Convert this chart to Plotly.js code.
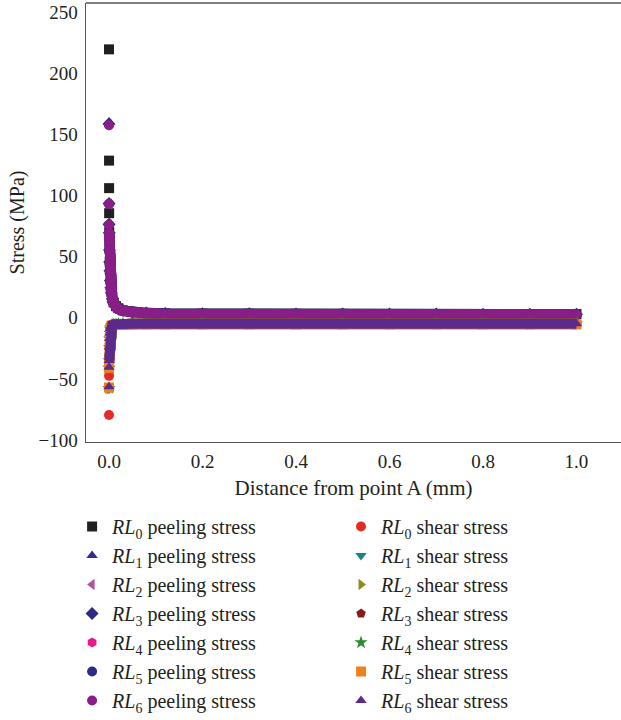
<!DOCTYPE html>
<html>
<head>
<meta charset="utf-8">
<script src="https://cdn.plot.ly/plotly-3.0.1.min.js"></script>
<style>html,body{margin:0;padding:0;background:#fff;overflow:hidden}#chart{width:621px;height:720px}</style>
</head>
<body>
<div id="chart"></div>
<script>
// Shared x positions (mm) for the continuous part of each curve
const bandX = [0.0005, 0.001, 0.0015, 0.002, 0.003, 0.004, 0.005, 0.007, 0.01, 0.015, 0.02, 0.03, 0.05, 0.08, 0.12, 0.2, 0.3, 0.4, 0.5, 0.6, 0.7, 0.8, 0.9, 1.0];

// Isolated singular points at the edge (x in mm)
const spikeX0 = [0, 0.0001, 0.0002, 0.0003];
const spikeX = [0, 0.0001, 0.0002];
const spikeXs = [0, 0.0001];

// Peeling stress (MPa)
const peelNames = ["RL0", "RL1", "RL2", "RL3", "RL4", "RL5", "RL6"];
const peelSpikeY = [
  [219.5, 128.5, 106, 85.5],
  [160, 94, 77],
  [158, 93, 76],
  [158.5, 93.5, 76.5],
  [158, 93, 76],
  [158, 93, 76],
  [157.5, 93, 76]
];
const peelBandY = [
  [70, 56, 46, 39, 31, 25, 21, 16, 12.5, 9.5, 7.8, 6.0, 4.8, 4.0, 3.6, 3.4, 3.3, 3.2, 3.2, 3.1, 3.1, 3.0, 3.0, 3.0],
  [69.5, 55.5, 45.5, 38.5, 30.5, 24.5, 20.5, 15.5, 12, 9, 7.4, 5.8, 4.5, 3.8, 3.3, 3.1, 3.0, 2.9, 2.9, 2.8, 2.8, 2.8, 2.7, 2.7],
  [69, 55, 45, 38, 30, 24, 20, 15, 11.6, 8.6, 7.1, 5.6, 4.3, 3.6, 3.1, 2.9, 2.8, 2.7, 2.7, 2.6, 2.6, 2.6, 2.5, 2.5],
  [69.5, 55.5, 45.5, 38.5, 30.5, 24.5, 20.5, 15.5, 12, 9.2, 7.6, 5.9, 4.6, 3.9, 3.5, 3.3, 3.2, 3.1, 3.1, 3.0, 3.0, 2.9, 2.9, 2.9],
  [69, 55, 45, 38, 30, 24, 20, 15, 11.6, 8.6, 7.1, 5.6, 4.3, 3.6, 3.1, 2.9, 2.8, 2.7, 2.7, 2.6, 2.6, 2.6, 2.5, 2.5],
  [69, 55, 45, 38, 30, 24, 20, 15, 11.5, 8.5, 7.0, 5.5, 4.2, 3.5, 3.0, 2.8, 2.7, 2.6, 2.6, 2.5, 2.5, 2.5, 2.4, 2.4],
  [69, 55, 45, 38, 30, 24, 20, 15, 11.5, 8.5, 7.0, 5.5, 4.2, 3.5, 3.0, 2.8, 2.7, 2.6, 2.6, 2.5, 2.5, 2.5, 2.4, 2.4]
];

// Shear stress (MPa)
const shearNames = ["RL0", "RL1", "RL2", "RL3", "RL4", "RL5", "RL6"];
const shearSpikeY = [
  [-79.5, -47.5, -40],
  [-58.5, -42],
  [-58, -41.5],
  [-57.5, -41],
  [-57.5, -41],
  [-57, -41],
  [-56.5, -40.5]
];
const shearBandY = [
  [-36, -25, -18, -13, -9.5, -7.8, -6.7, -6.0, -5.5, -5.2, -5.0, -4.9, -4.8, -4.7, -4.7, -4.6, -4.6, -4.6, -4.6, -4.6, -4.6, -4.6, -4.6, -4.6],
  [-35.5, -24.5, -17.5, -13, -9.5, -8, -7, -6.3, -5.9, -5.6, -5.5, -5.4, -5.3, -5.3, -5.3, -5.3, -5.3, -5.3, -5.3, -5.3, -5.3, -5.3, -5.3, -5.3],
  [-35, -24, -17, -12.5, -9.2, -7.7, -6.7, -6.0, -5.6, -5.4, -5.2, -5.1, -5.0, -5.0, -5.0, -5.0, -5.0, -5.0, -5.0, -5.0, -5.0, -5.0, -5.0, -5.0],
  [-35, -24, -17, -12.5, -9.1, -7.6, -6.6, -5.9, -5.5, -5.3, -5.1, -5.0, -4.9, -4.9, -4.9, -4.9, -4.9, -4.9, -4.9, -4.9, -4.9, -4.9, -4.9, -4.9],
  [-35, -24, -17, -12.5, -9.1, -7.6, -6.6, -5.9, -5.5, -5.3, -5.1, -5.0, -4.9, -4.9, -4.9, -4.9, -4.9, -4.9, -4.9, -4.9, -4.9, -4.9, -4.9, -4.9],
  [-35.5, -24.5, -17.5, -13, -9.6, -8.1, -7.1, -6.4, -6.0, -5.8, -5.6, -5.5, -5.5, -5.4, -5.4, -5.4, -5.4, -5.4, -5.4, -5.4, -5.4, -5.4, -5.4, -5.4],
  [-35, -24, -17, -12.5, -9, -7.5, -6.5, -5.8, -5.4, -5.2, -5.1, -5.0, -4.9, -4.9, -4.8, -4.8, -4.8, -4.8, -4.8, -4.8, -4.8, -4.8, -4.8, -4.8]
];

const peelSymbols = ["square", "triangle-up", "triangle-left", "diamond", "hexagon", "circle", "circle"];
const peelColors = ["#231f20", "#3d2a8c", "#b4509f", "#2e2a86", "#ea1a8a", "#2f2a88", "#8a1e88"];
const shearSymbols = ["circle", "triangle-down", "triangle-right", "pentagon", "star", "square", "triangle-up"];
const shearColors = ["#e42a24", "#178585", "#8c8a1c", "#881a1c", "#2e8a30", "#f0801f", "#5c2a8a"];

const MS = 10;
const traces = [];
function addSeries(name, kind, spkX, spkY, bY, sym, col, legendId, gid) {
  traces.push({
    type: "scatter", mode: "lines", x: bandX, y: bY,
    line: {color: col, width: MS, shape: "linear"},
    showlegend: false, legendgroup: gid, hoverinfo: "skip"
  });
  traces.push({
    type: "scatter", mode: "markers",
    x: spkX.concat(bandX), y: spkY.concat(bY),
    name: "<i>RL</i><sub>" + name.slice(2) + "</sub> " + kind,
    marker: {symbol: sym, color: col, size: MS, line: {width: 0}},
    legend: legendId, legendgroup: gid
  });
}
for (let i = 0; i < 7; i++) {
  addSeries(peelNames[i], "peeling stress", i === 0 ? spikeX0 : spikeX, peelSpikeY[i], peelBandY[i], peelSymbols[i], peelColors[i], "legend", "p" + i);
}
for (let i = 0; i < 7; i++) {
  addSeries(shearNames[i], "shear stress", i === 0 ? spikeX : spikeXs, shearSpikeY[i], shearBandY[i], shearSymbols[i], shearColors[i], "legend2", "s" + i);
}

const FONT = "Liberation Serif, Times New Roman, serif";
const TXT = "#231f20";
const legendCommon = {
  font: {family: FONT, size: 20, color: TXT},
  bgcolor: "rgba(0,0,0,0)", borderwidth: 0,
  xanchor: "left", yanchor: "top", orientation: "v",
  tracegroupgap: 0, itemclick: false, itemdoubleclick: false
};
const layout = {
  width: 621, height: 720,
  margin: {l: 86, r: 0, t: 3, b: 0, pad: 0},
  paper_bgcolor: "#fff", plot_bgcolor: "#fff",
  font: {family: FONT, size: 19, color: TXT},
  xaxis: {
    range: [-0.0492, 1.0952], tickvals: [0, 0.2, 0.4, 0.6, 0.8, 1.0],
    ticktext: ["0.0", "0.2", "0.4", "0.6", "0.8", "1.0"],
    tickfont: {family: FONT, size: 19, color: TXT},
    showgrid: false, zeroline: false, ticks: "", showline: true, automargin: false,
    linecolor: "#555", linewidth: 1.5, ticklabelstandoff: 2,
    title: {text: "Distance from point A (mm)", font: {family: FONT, size: 21, color: TXT}, standoff: 8.5}
  },
  yaxis: {
    domain: [0.38773, 1],
    range: [-101.6, 257.4], tickvals: [-100, -50, 0, 50, 100, 150, 200, 250],
    ticktext: ["\u2212100", "\u221250", "0", "50", "100", "150", "200", "250"],
    tickfont: {family: FONT, size: 19, color: TXT},
    showgrid: false, zeroline: false, ticks: "", showline: true, automargin: false,
    linecolor: "#555", linewidth: 1.5, ticklabelstandoff: 3,
    title: {text: "Stress (MPa)", font: {family: FONT, size: 20, color: TXT}, standoff: 8}
  },
  shapes: [{type: "line", xref: "paper", yref: "paper", x0: 0, x1: 1, y0: 1, y1: 1, line: {color: "#555", width: 1.5}}],
  legend: Object.assign({}, legendCommon, {x: -0.026, y: 0.2968}),
  legend2: Object.assign({}, legendCommon, {x: 0.4767, y: 0.2968}),
  showlegend: true
};
Plotly.newPlot("chart", traces, layout, {displayModeBar: false, staticPlot: true});
</script>
</body>
</html>
